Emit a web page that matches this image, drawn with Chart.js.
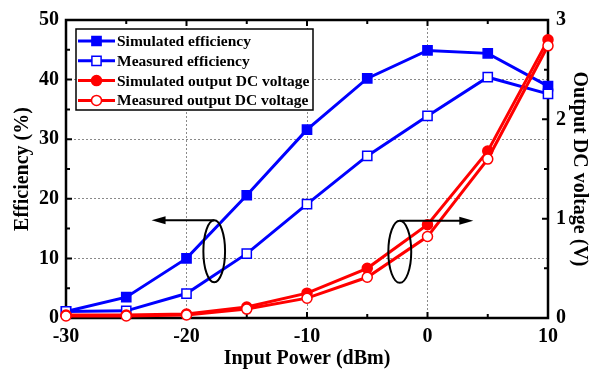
<!DOCTYPE html>
<html>
<head>
<meta charset="utf-8">
<script src="https://cdn.jsdelivr.net/npm/chart.js@4.4.0/dist/chart.umd.min.js"></script>
<style>
  html, body { margin: 0; padding: 0; background: #fff; }
  #wrap { width: 589px; height: 376px; }
</style>
</head>
<body>
<div id="wrap"><canvas id="myChart"></canvas></div>
<script>
// Data

const inputPower = [-30, -25, -20, -15, -10, -5, 0, 5, 10];
const simEfficiency = [1.1, 3.5, 10.0, 20.6, 31.6, 40.2, 44.9, 44.4, 38.9];
const measEfficiency = [1.1, 1.2, 4.1, 10.8, 19.1, 27.2, 33.9, 40.4, 37.6];
const simVoltage = [0.03, 0.03, 0.04, 0.11, 0.25, 0.50, 0.94, 1.68, 2.80];
const measVoltage = [0.02, 0.02, 0.03, 0.09, 0.20, 0.41, 0.82, 1.60, 2.74];

const xTicks = [-30, -20, -10, 0, 10];
const effTicks = [0, 10, 20, 30, 40, 50];
const voltTicks = [0, 1, 2, 3];

// Settings

const font = 'Liberation Serif';
const blue = '#0000ff';
const red = '#ff0000';

// callout ellipses, in data units (x: dBm, y: %)
const callouts = [
  { cx: -17.7, cy: 11.2, rx: 0.9, ry: 5.2, tip: -22.9 },
  { cx: -2.3, cy: 11.1, rx: 0.95, ry: 5.2, tip: 3.8 },
];

function toPoints(ys) {
  return inputPower.map(function(x, i) { return { x: x, y: ys[i] }; });
}

function setTicks(values) {
  return function(scale) {
    scale.ticks = values.map(function(v) { return { value: v }; });
  };
}

// Plugins

const frameAndTicks = {
  id: 'frameAndTicks',
  beforeDatasetsDraw(chart) {
    const { ctx, chartArea: a, scales } = chart;
    ctx.save();
    ctx.strokeStyle = '#000';
    ctx.lineWidth = 2;
    ctx.beginPath();
    for (let v = -30; v <= 10; v += 5) {
      const px = scales.x.getPixelForValue(v);
      const len = v % 10 === 0 ? 6 : 4;
      ctx.moveTo(px, a.bottom); ctx.lineTo(px, a.bottom - len);
      ctx.moveTo(px, a.top); ctx.lineTo(px, a.top + len);
    }
    for (let v = 0; v <= 50; v += 5) {
      const py = scales.y.getPixelForValue(v);
      const len = v % 10 === 0 ? 6 : 4;
      ctx.moveTo(a.left, py); ctx.lineTo(a.left + len, py);
    }
    for (let v = 0; v <= 3; v += 0.5) {
      const py = scales.y1.getPixelForValue(v);
      const len = v % 1 === 0 ? 6 : 4;
      ctx.moveTo(a.right, py); ctx.lineTo(a.right - len, py);
    }
    ctx.stroke();
    ctx.lineWidth = 2.5;
    ctx.strokeRect(a.left, a.top, a.right - a.left, a.bottom - a.top);
    ctx.restore();
  }
};

const calloutPlugin = {
  id: 'calloutPlugin',
  afterDatasetsDraw(chart) {
    const { ctx, scales } = chart;
    ctx.save();
    ctx.strokeStyle = '#000';
    ctx.fillStyle = '#000';
    ctx.lineWidth = 2;
    callouts.forEach(function(c) {
      const cx = scales.x.getPixelForValue(c.cx);
      const cy = scales.y.getPixelForValue(c.cy);
      const rx = Math.abs(scales.x.getPixelForValue(c.cx + c.rx) - cx);
      const ry = Math.abs(scales.y.getPixelForValue(c.cy + c.ry) - cy);
      const tip = scales.x.getPixelForValue(c.tip);
      const dir = tip < cx ? -1 : 1;
      const top = cy - ry;
      ctx.beginPath();
      ctx.ellipse(cx, cy, rx, ry, 0, 0, Math.PI * 2);
      ctx.stroke();
      ctx.beginPath();
      ctx.moveTo(cx, top);
      ctx.lineTo(tip - dir * 10, top);
      ctx.stroke();
      ctx.beginPath();
      ctx.moveTo(tip, top);
      ctx.lineTo(tip - dir * 14, top - 4);
      ctx.lineTo(tip - dir * 14, top + 4);
      ctx.closePath();
      ctx.fill();
    });
    ctx.restore();
  }
};

const legendPlugin = {
  id: 'legendPlugin',
  afterDraw(chart) {
    const { ctx, chartArea: a } = chart;
    const box = { x: a.left + 10, y: a.top + 9, w: 237, h: 81 };
    ctx.save();
    ctx.fillStyle = '#fff';
    ctx.fillRect(box.x, box.y, box.w, box.h);
    ctx.strokeStyle = '#000';
    ctx.lineWidth = 1.5;
    ctx.strokeRect(box.x, box.y, box.w, box.h);
    ctx.font = 'bold 15.5px "' + font + '"';
    ctx.textBaseline = 'middle';
    chart.data.datasets.forEach(function(ds, i) {
      const y = box.y + 12 + i * 19.8;
      const x0 = box.x + 2;
      const x1 = box.x + 39;
      ctx.strokeStyle = ds.borderColor;
      ctx.lineWidth = ds.borderWidth;
      ctx.beginPath();
      ctx.moveTo(x0, y); ctx.lineTo(x1, y);
      ctx.stroke();
      ctx.fillStyle = ds.pointBackgroundColor;
      ctx.strokeStyle = ds.pointBorderColor;
      ctx.lineWidth = ds.pointBorderWidth;
      Chart.helpers.drawPoint(ctx, {
        pointStyle: ds.pointStyle, radius: ds.pointRadius, borderWidth: ds.pointBorderWidth, rotation: 0
      }, (x0 + x1) / 2, y);
      ctx.fillStyle = '#000';
      ctx.fillText(ds.label, x1 + 2, y + 1);
    });
    ctx.restore();
  }
};

// Chart

const tickFont = { family: font, size: 20, weight: 'bold' };
const titleFont = { family: font, size: 20, weight: 'bold', lineHeight: 1 };

function series(label, data, color, style, filled, axis, order) {
  return {
    label: label,
    data: toPoints(data),
    yAxisID: axis,
    order: order,
    borderColor: color,
    borderWidth: 3,
    pointStyle: style,
    pointRadius: style === 'rect' ? 6.5 : 5,
    pointBorderWidth: 1.5,
    pointBorderColor: color,
    pointBackgroundColor: filled ? color : '#fff',
    clip: false,
  };
}

const ctx = document.getElementById('myChart').getContext('2d');

new Chart(ctx, {
  type: 'line',
  data: {
    datasets: [
      series('Simulated efficiency', simEfficiency, blue, 'rect', true, 'y', 3),
      series('Measured efficiency', measEfficiency, blue, 'rect', false, 'y', 2),
      series('Simulated output DC voltage', simVoltage, red, 'circle', true, 'y1', 1),
      series('Measured output DC voltage', measVoltage, red, 'circle', false, 'y1', 0),
    ]
  },
  options: {
    responsive: true,
    maintainAspectRatio: false,
    animation: false,
    layout: { padding: { top: 16, left: 0, right: 0, bottom: 0 } },
    plugins: { legend: { display: false }, tooltip: { enabled: false } },
    scales: {
      x: {
        type: 'linear', min: -30, max: 10,
        afterBuildTicks: setTicks(xTicks),
        afterFit: function(s) { s.height = 58; },
        grid: { color: '#8a8a8a', lineWidth: 1, drawTicks: false },
        border: { display: false, dash: [2, 2] },
        ticks: { color: '#000', font: tickFont, padding: 7 },
        title: {
          display: true, text: 'Input Power (dBm)', color: '#000',
          font: titleFont, padding: { top: 0, bottom: 7 }
        }
      },
      y: {
        position: 'left', min: 0, max: 50,
        afterBuildTicks: setTicks(effTicks),
        afterFit: function(s) { s.width = 66; },
        grid: { color: '#8a8a8a', lineWidth: 1, drawTicks: false },
        border: { display: false, dash: [2, 2] },
        ticks: { color: '#000', font: tickFont, padding: 7 },
        title: {
          display: true, text: 'Efficiency (%)', color: '#000',
          font: titleFont, padding: { top: 13, bottom: 0 }
        }
      },
      y1: {
        position: 'right', min: 0, max: 3,
        afterBuildTicks: setTicks(voltTicks),
        afterFit: function(s) { s.width = 41; },
        grid: { drawOnChartArea: false, drawTicks: false },
        border: { display: false },
        ticks: { color: '#000', font: tickFont, padding: 8 },
        title: {
          display: true, text: 'Output DC voltage (V)', color: '#000',
          font: titleFont, padding: { top: 0, bottom: 0 }
        }
      }
    }
  },
  plugins: [frameAndTicks, calloutPlugin, legendPlugin],
});
</script>
</body>
</html>
